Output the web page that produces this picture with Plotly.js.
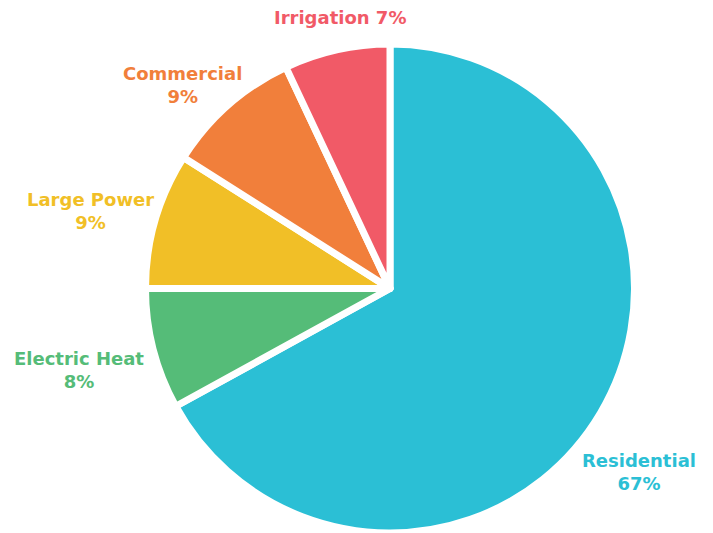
<!DOCTYPE html>
<html>
<head>
<meta charset="utf-8">
<script src="https://cdn.plot.ly/plotly-3.0.1.min.js"></script>
<style>html,body{margin:0;padding:0;background:#fff;overflow:hidden;}#chart{width:713px;height:533px;}</style>
</head>
<body>
<div id="chart"></div>
<script>
const categories = ["Residential", "Electric Heat", "Large Power", "Commercial", "Irrigation"];
const shares = [67, 8, 9, 9, 7];
const colors = ["#2BBFD5", "#55BC78", "#F1BF27", "#F17F3B", "#F15A67"];

// label anchor positions (pixels) for the outside labels
const labelPos = [[639, 472], [79, 370], [90, 211], [182, 85], [340, 18]];

const W = 713, H = 533;
const annotations = categories.map((c, i) => {
  const single = c === "Irrigation";
  const txt = single ? "<b>" + c + " " + shares[i] + "%</b>" : "<b>" + c + "<br>" + shares[i] + "%</b>";
  return {
    text: txt,
    x: labelPos[i][0] / W, y: 1 - labelPos[i][1] / H,
    xref: "paper", yref: "paper",
    xanchor: "center", yanchor: "middle",
    showarrow: false,
    font: {family: "DejaVu Sans, sans-serif", size: 18, color: colors[i]},
    align: "center"
  };
});

const R = 244.5;
const data = [{
  type: "pie",
  labels: categories,
  values: shares,
  sort: false,
  direction: "clockwise",
  rotation: 0,
  textinfo: "none",
  hoverinfo: "label+percent",
  marker: {colors: colors, line: {color: "#ffffff", width: 7}},
  domain: {x: [(390 - R) / W, (390 + R) / W], y: [0, 1 - 44 / H]}
}];

const layout = {
  width: W, height: H,
  margin: {l: 0, r: 0, t: 0, b: 0},
  paper_bgcolor: "#ffffff",
  showlegend: false,
  annotations: annotations
};

Plotly.newPlot("chart", data, layout, {displayModeBar: false, staticPlot: true});
</script>
</body>
</html>
